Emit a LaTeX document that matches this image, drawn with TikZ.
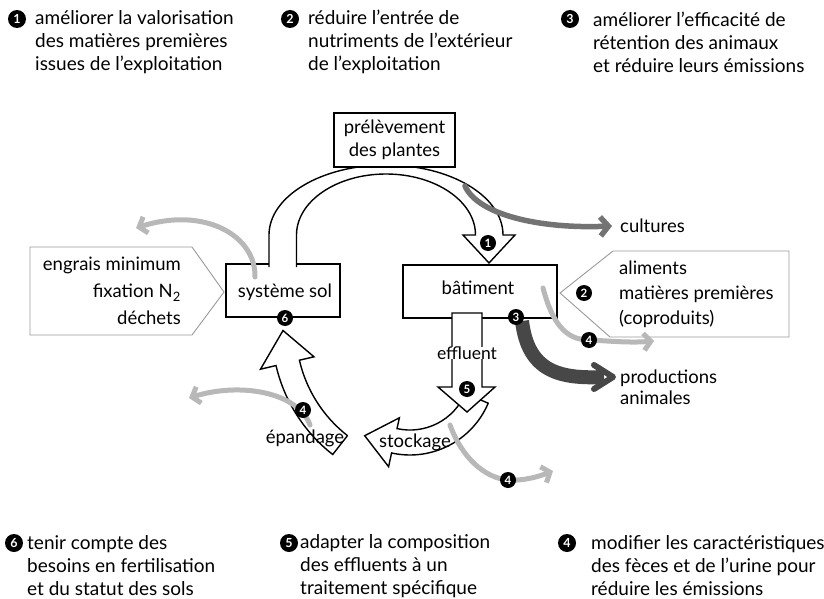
\documentclass[tikz,border=0pt]{standalone}
\usepackage{fontspec}
\setmainfont{Lato}
\usetikzlibrary{arrows.meta}
\begin{document}
\begin{tikzpicture}[x=1pt,y=-1pt,
  box/.style={draw=black, line width=1.4pt, fill=white, inner sep=0pt},
  flow/.style={draw=black, line width=1.4pt, fill=white, line join=miter},
  num/.style={circle, fill=black, text=white, inner sep=0pt, minimum size=16pt, font=\fontsize{11.5}{11.5}\selectfont\bfseries},
  bignum/.style={num, minimum size=18pt, font=\fontsize{12.5}{12.5}\selectfont\bfseries},
  note/.style={align=left, anchor=west, font=\fontsize{19}{23}\selectfont, inner sep=0pt},
  lbl/.style={font=\fontsize{18.5}{23}\selectfont, inner sep=0pt},
  pent/.style={draw=black!40, line width=0.9pt},
  lightarr/.style={draw=black!28, line width=5pt, line cap=round, -{Straight Barb[length=7pt,width=17pt]}},
  midarr/.style={draw=black!55, line width=5.5pt, line cap=round, -{Straight Barb[length=8pt,width=19pt]}},
  darkband/.style={draw=black!72, line width=14pt},
  darkhead/.style={draw=black!72, line width=6pt, line cap=round, line join=round}
]
\useasboundingbox (0,0) rectangle (824,599);

% ---------- top notes ----------
\node[bignum] (n1t) at (17,19) {1};
\node[note] (t1) at (35,42) {améliorer la valorisation\\des matières premières\\issues de l'exploitation};
\node[bignum] (n2t) at (290,19) {2};
\node[note] (t2) at (308,42) {réduire l'entrée de\\nutriments de l'extérieur\\de l'exploitation};
\node[bignum] (n3t) at (570,19) {3};
\node[note] (t3) at (593,42) {améliorer l'efficacité de\\rétention des animaux\\et réduire leurs émissions};

% ---------- bottom notes ----------
\node[bignum] (n6b) at (14,543) {6};
\node[note] (b6) at (27,566) {tenir compte des\\besoins en fertilisation\\et du statut des sols};
\node[bignum] (n5b) at (289,543) {5};
\node[note] (b5) at (300,566) {adapter la composition\\des effluents à un\\traitement spécifique};
\node[bignum] (n4b) at (567,543) {4};
\node[note] (b4) at (591,566) {modifier les caractéristiques\\des fèces et de l'urine pour\\réduire les émissions};

% ---------- pentagons ----------
\draw[pent] (30,247) -- (192,247) -- (224,292) -- (192,335) -- (30,335) -- cycle;
\node[lbl, align=right, anchor=east, font=\fontsize{18.5}{27}\selectfont] (engrais) at (181,291) {engrais minimum\\fixation N\textsubscript{2}\\déchets};
\draw[pent] (560,293) -- (613,251) -- (789,251) -- (789,337) -- (610,337) -- cycle;
\node[lbl, align=left, anchor=west, font=\fontsize{18.5}{25}\selectfont] (aliments) at (619,294) {aliments\\matières premières\\(coproduits)};

% ---------- main boxes ----------
\node[box, minimum width=114pt, minimum height=53pt] (sol) at (283,290.5) {};
\node[box, minimum width=154pt, minimum height=53pt] (bat) at (480,291.5) {};

% grey arrow from sol
\draw[lightarr] (255,277) .. controls (256,236) and (205,206) .. (136,228);

% big arch arrow
\draw[flow] (269,267) -- (269,235)
  arc[start angle=180, end angle=360, x radius=117, y radius=70]
  -- (515,235) -- (489,263) -- (463,235) -- (475.5,235)
  arc[start angle=0, end angle=-180, x radius=89.5, y radius=61]
  -- (296.5,267);

\node[box, minimum width=121pt, minimum height=54pt, lbl, align=center, font=\fontsize{18.5}{23}\selectfont] (prel) at (394.5,140) {prélèvement\\des plantes};

% cultures arrow
\draw[midarr] (465,186) .. controls (478,215) and (540,229) .. (612,226);
\node[lbl, anchor=west] (cult) at (620,226) {cultures};

% stockage arrow
\draw[flow] (465.2,393.4) -- (488.2,403.2)
  arc[start angle=23, end angle=102.5, radius=85]
  -- (388.6,466.7) -- (364.7,435.7) -- (399.4,417.8) -- (397.0,428.6)
  arc[start angle=102.5, end angle=23, radius=60] -- cycle;

% effluent arrow
\draw[flow] (452,313) -- (452,387) -- (438,387) -- (467,412) -- (495,387) -- (482,387) -- (482,313) -- cycle;
\node[lbl, fill=white, font=\fontsize{17.5}{20}\selectfont] (effl) at (467,353) {effluent};

% epandage arrow
\draw[flow] (347.5,435.6) -- (332.7,454.5)
  arc[start angle=128, end angle=167, radius=158]
  -- (260.5,369.2) -- (283,330.5) -- (314.0,356.8) -- (299.4,360.2)
  arc[start angle=167, end angle=128, radius=134] -- cycle;

\node[lbl] (stock) at (415,442) {stockage};
\node[lbl] (epand) at (305,438) {épandage};

% grey emission arrows
\draw[lightarr] (310,425) .. controls (298,392) and (240,382) .. (189,398);
\draw[lightarr] (450,425) .. controls (462,458) and (485,478) .. (508,480) .. controls (525,481) and (540,476) .. (553,471);
\draw[lightarr] (543,288) .. controls (552,322) and (565,340) .. (589,340) .. controls (610,341) and (630,343) .. (654,341);

% productions animales
\draw[darkband] (522,321) .. controls (528,372) and (560,379) .. (604,377);
\draw[darkhead] (594,365) -- (613,377) -- (594,389);
\node[lbl, align=left, anchor=west, font=\fontsize{18.5}{21}\selectfont] (prod) at (620,387) {productions\\animales};

% box labels
\node[lbl] (soltxt) at (285,292) {système sol};
\node[lbl] (battxt) at (478,288) {bâtiment};

% numbers on the diagram
\node[num] (c1) at (488,243) {1};
\node[num] (c2) at (584,293) {2};
\node[num] (c3) at (516,317) {3};
\node[num] (c4a) at (589,340) {4};
\node[num] (c4b) at (303,410) {4};
\node[num] (c4c) at (508,480) {4};
\node[num] (c5) at (467,389) {5};
\node[num] (c6) at (285,318) {6};
\end{tikzpicture}
\end{document}
